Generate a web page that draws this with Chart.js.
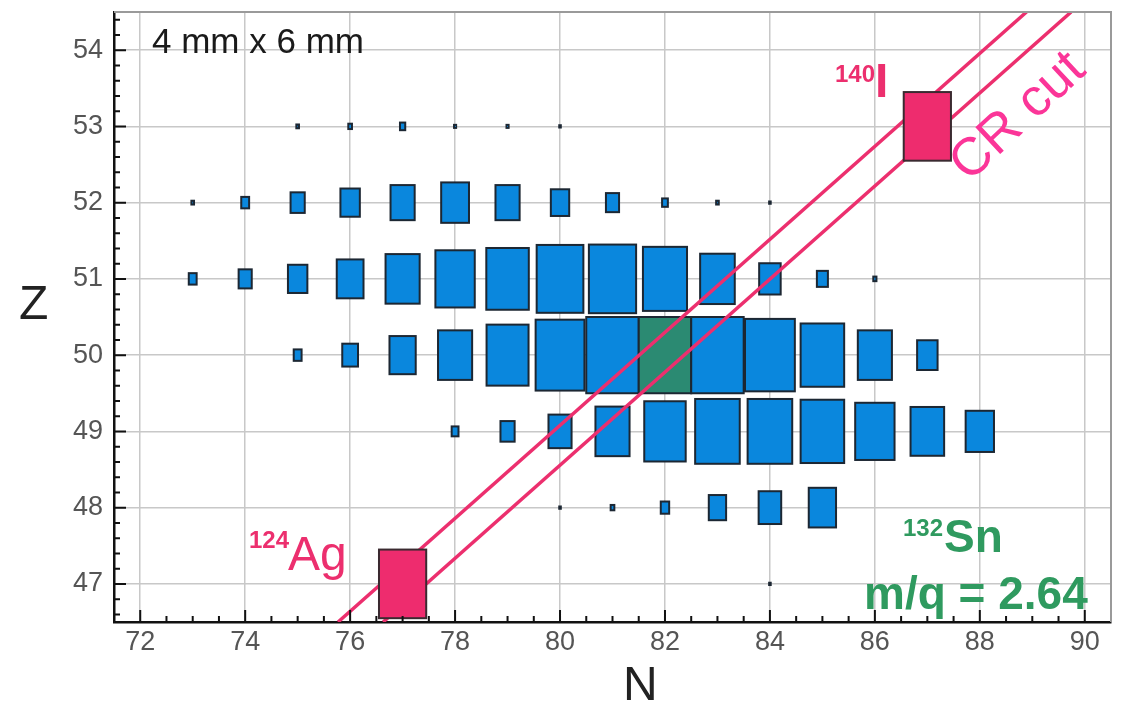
<!DOCTYPE html>
<html>
<head>
<meta charset="utf-8">
<script src="https://cdn.jsdelivr.net/npm/chart.js@4.4.1/dist/chart.umd.min.js"></script>
<style>
  html, body { margin: 0; padding: 0; background: #fff; }
  canvas { display: block; }
</style>
</head>
<body>
<canvas id="zn_chart" width="1121" height="701"></canvas>
<script>
// identified nuclei: N, Z and box size (fraction of one bin)
var nucN = [75, 76, 77, 78, 79, 80,
            73, 74, 75, 76, 77, 78, 79, 80, 81, 82, 83, 84,
            73, 74, 75, 76, 77, 78, 79, 80, 81, 82, 83, 84, 85, 86,
            75, 76, 77, 78, 79, 80, 81, 82, 83, 84, 85, 86, 87,
            78, 79, 80, 81, 82, 83, 84, 85, 86, 87, 88,
            80, 81, 82, 83, 84, 85,
            84];
var nucZ = [53, 53, 53, 53, 53, 53,
            52, 52, 52, 52, 52, 52, 52, 52, 52, 52, 52, 52,
            51, 51, 51, 51, 51, 51, 51, 51, 51, 51, 51, 51, 51, 51,
            50, 50, 50, 50, 50, 50, 50, 50, 50, 50, 50, 50, 50,
            49, 49, 49, 49, 49, 49, 49, 49, 49, 49, 49,
            48, 48, 48, 48, 48, 48,
            47];
var nucSize = [0.05, 0.07, 0.10, 0.04, 0.04, 0.03,
               0.05, 0.15, 0.27, 0.37, 0.46, 0.53, 0.46, 0.35, 0.25, 0.11, 0.05, 0.03,
               0.15, 0.25, 0.37, 0.51, 0.65, 0.75, 0.81, 0.89, 0.90, 0.84, 0.66, 0.41, 0.21, 0.06,
               0.15, 0.30, 0.50, 0.65, 0.80, 0.93, 1.00, 1.00, 1.00, 0.95, 0.83, 0.65, 0.39,
               0.13, 0.27, 0.44, 0.65, 0.79, 0.85, 0.85, 0.83, 0.75, 0.64, 0.54,
               0.03, 0.07, 0.16, 0.33, 0.43, 0.52,
               0.03];

// 132Sn (green) inside the main set
var snN = 82, snZ = 50;

// 124Ag and 140I markers
var markN = [77, 87];
var markZ = [47, 53];
var markSize = [0.9, 0.9];

// CR cut lines (A/Q window)
var cutZ = [46.5, 54.5];
var upperCutN = [75.77, 88.89];
var lowerCutN = [76.63, 89.74];

var xTicks = [72, 74, 76, 78, 80, 82, 84, 86, 88, 90];
var yTicks = [47, 48, 49, 50, 51, 52, 53, 54];

var pink = '#ec2f6e';
var green = '#2f9a5f';

function cutPoints(ns) {
    return ns.map(function(n, i) { return {x: n, y: cutZ[i]}; });
}

function drawBox(ctx, chart, n, z, s, fill, edge) {
    var xs = chart.scales.x, ys = chart.scales.y;
    var x0 = xs.getPixelForValue(n - s / 2), x1 = xs.getPixelForValue(n + s / 2);
    var y0 = ys.getPixelForValue(z + s / 2), y1 = ys.getPixelForValue(z - s / 2);
    ctx.fillStyle = fill;
    ctx.fillRect(x0, y0, x1 - x0, y1 - y0);
    ctx.strokeStyle = edge;
    ctx.lineWidth = 2;
    ctx.strokeRect(x0, y0, x1 - x0, y1 - y0);
}

function text(ctx, str, x, y, font, color) {
    ctx.font = font;
    ctx.fillStyle = color;
    ctx.fillText(str, x, y);
}

var boxPlugin = {
    id: 'boxes',
    beforeDatasetsDraw: function(chart) {
        var ctx = chart.ctx, a = chart.chartArea;
        ctx.save();
        ctx.beginPath();
        ctx.rect(a.left, a.top, a.right - a.left, a.bottom - a.top);
        ctx.clip();
        for (var i = 0; i < nucN.length; i++) {
            var isSn = nucN[i] == snN && nucZ[i] == snZ;
            drawBox(ctx, chart, nucN[i], nucZ[i], nucSize[i], isSn ? '#2b8a72' : '#0a87dd', '#1c2733');
        }
        ctx.restore();
    },
    afterDatasetsDraw: function(chart) {
        var ctx = chart.ctx, a = chart.chartArea;
        ctx.save();
        ctx.beginPath();
        ctx.rect(a.left, a.top, a.right - a.left, a.bottom - a.top);
        ctx.clip();
        for (var i = 0; i < markN.length; i++) {
            drawBox(ctx, chart, markN[i], markZ[i], markSize[i], '#ee2c6e', '#3a2a30');
        }
        ctx.restore();
    },
    afterDraw: function(chart) {
        var ctx = chart.ctx, a = chart.chartArea;
        var xs = chart.scales.x, ys = chart.scales.y;
        ctx.save();
        // top and right frame
        ctx.strokeStyle = '#9a9a9a';
        ctx.lineWidth = 2;
        ctx.beginPath();
        ctx.moveTo(a.left, a.top);
        ctx.lineTo(a.right, a.top);
        ctx.lineTo(a.right, a.bottom);
        ctx.stroke();

        // inward tick marks
        ctx.strokeStyle = '#111';
        ctx.lineWidth = 2;
        ctx.beginPath();
        for (var v = 72; v <= 90.01; v += 0.5) {
            var px = xs.getPixelForValue(v);
            var len = (Math.abs(v / 2 - Math.round(v / 2)) < 0.01) ? 12 : 6;
            ctx.moveTo(px, a.bottom);
            ctx.lineTo(px, a.bottom - len);
        }
        for (var k = 233; k <= 272; k++) {
            var zv = k / 5;
            var py = ys.getPixelForValue(zv);
            var l2 = (k % 5 == 0) ? 12 : 6;
            ctx.moveTo(a.left, py);
            ctx.lineTo(a.left + l2, py);
        }
        ctx.stroke();

        // labels
        ctx.textAlign = 'left';
        ctx.textBaseline = 'alphabetic';
        text(ctx, '4 mm x 6 mm', 152, 53, '35px "Liberation Sans"', '#1a1a1a');
        text(ctx, 'Z', 19, 319, '48px "Liberation Sans"', '#222');
        text(ctx, 'N', 623, 700, '48px "Liberation Sans"', '#222');

        text(ctx, '140', 835, 82, 'bold 24px "Liberation Sans"', pink);
        text(ctx, 'I', 875, 97, 'bold 48px "Liberation Sans"', pink);
        text(ctx, '124', 249, 548, 'bold 24px "Liberation Sans"', pink);
        text(ctx, 'Ag', 288, 570, '48px "Liberation Sans"', pink);

        text(ctx, '132', 903, 536, 'bold 24px "Liberation Sans"', green);
        text(ctx, 'Sn', 944, 552, 'bold 46px "Liberation Sans"', green);
        text(ctx, 'm/q = 2.64', 864, 609, 'bold 46px "Liberation Sans"', green);

        ctx.translate(969, 183);
        ctx.rotate(-43 * Math.PI / 180);
        text(ctx, 'CR cut', 0, 0, '53px "Liberation Sans"', '#fb3598');
        ctx.restore();
    }
};

var ctx = document.getElementById('zn_chart');
var chartZN = new Chart(ctx, {
    type: 'scatter',
    data: {
        datasets: [
            {
                type: 'line',
                data: cutPoints(upperCutN),
                borderColor: pink,
                borderWidth: 3.5,
                pointRadius: 0,
                fill: false
            },
            {
                type: 'line',
                data: cutPoints(lowerCutN),
                borderColor: pink,
                borderWidth: 3.5,
                pointRadius: 0,
                fill: false
            }
        ]
    },
    options: {
        responsive: false,
        animation: false,
        layout: { padding: { top: 12, right: 10, left: 0, bottom: 0 } },
        plugins: {
            legend: { display: false },
            tooltip: { enabled: false }
        },
        scales: {
            x: {
                type: 'linear',
                min: 71.5,
                max: 90.5,
                afterBuildTicks: function(scale) {
                    scale.ticks = xTicks.map(function(v) { return {value: v}; });
                },
                afterFit: function(scale) {
                    scale.height = 79;
                    scale.paddingLeft = 0;
                    scale.paddingRight = 0;
                },
                grid: { color: '#c8c8c8', lineWidth: 1.5, drawTicks: false },
                border: { color: '#111', width: 2.5 },
                ticks: {
                    autoSkip: false,
                    maxRotation: 0,
                    padding: 4,
                    color: '#555',
                    font: { family: 'Liberation Sans', size: 27 }
                }
            },
            y: {
                type: 'linear',
                min: 46.5,
                max: 54.5,
                afterBuildTicks: function(scale) {
                    scale.ticks = yTicks.map(function(v) { return {value: v}; });
                },
                afterFit: function(scale) {
                    scale.width = 114;
                    scale.paddingTop = 0;
                    scale.paddingBottom = 0;
                },
                grid: { color: '#c8c8c8', lineWidth: 1.5, drawTicks: false },
                border: { color: '#111', width: 2.5 },
                ticks: {
                    autoSkip: false,
                    padding: 11,
                    color: '#555',
                    font: { family: 'Liberation Sans', size: 27 }
                }
            }
        }
    },
    plugins: [boxPlugin]
});
</script>
</body>
</html>
